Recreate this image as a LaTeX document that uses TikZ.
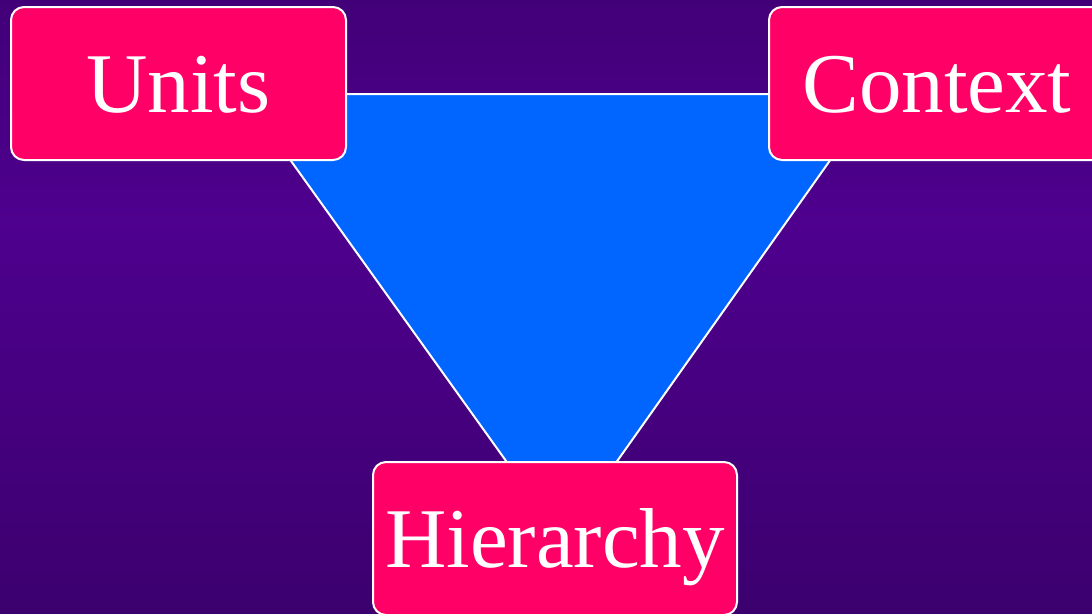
\documentclass[tikz,border=0pt]{standalone}
\usepackage{fontspec}
\setmainfont{Liberation Serif}
\definecolor{bgtop}{RGB}{66,0,120}
\definecolor{bgmid}{RGB}{78,0,142}
\definecolor{bgbot}{RGB}{60,0,110}
\definecolor{boxpink}{RGB}{255,0,102}
\definecolor{triblue}{RGB}{0,102,255}
\pgfdeclareverticalshading{bgshade}{100bp}{color(0bp)=(bgbot); color(25bp)=(bgbot); color(57bp)=(bgmid); color(75bp)=(bgtop); color(100bp)=(bgtop)}
\tikzset{
  termbox/.style={draw=white, line width=2pt, fill=boxpink, rounded corners=13pt,
    inner sep=0pt, text=white, font=\fontsize{85}{96}\selectfont,
    text height=58pt, text depth=0pt, minimum height=153pt},
  tri/.style={draw=white, line width=2pt, fill=triblue, line join=miter}
}
\begin{document}
\begin{tikzpicture}[x=1pt,y=-1pt]
\useasboundingbox (0,0) rectangle (1092,613);
\clip (0,0) rectangle (1092,613);
\shade[shading=bgshade] (0,0) rectangle (1092,613);
\coordinate (tl) at (243,94);
\coordinate (tr) at (877,94);
\coordinate (tb) at (562,539);
\draw[tri] (tl) -- (tr) -- (tb) -- cycle;
\node[termbox, minimum width=335pt] (units) at (178.5,83.5) {Units};
\node[termbox, minimum width=336pt] (context) at (937,83.5) {Context};
\node[termbox, minimum width=364pt] (hier) at (555,538.5) {Hierarchy};
\end{tikzpicture}
\end{document}
